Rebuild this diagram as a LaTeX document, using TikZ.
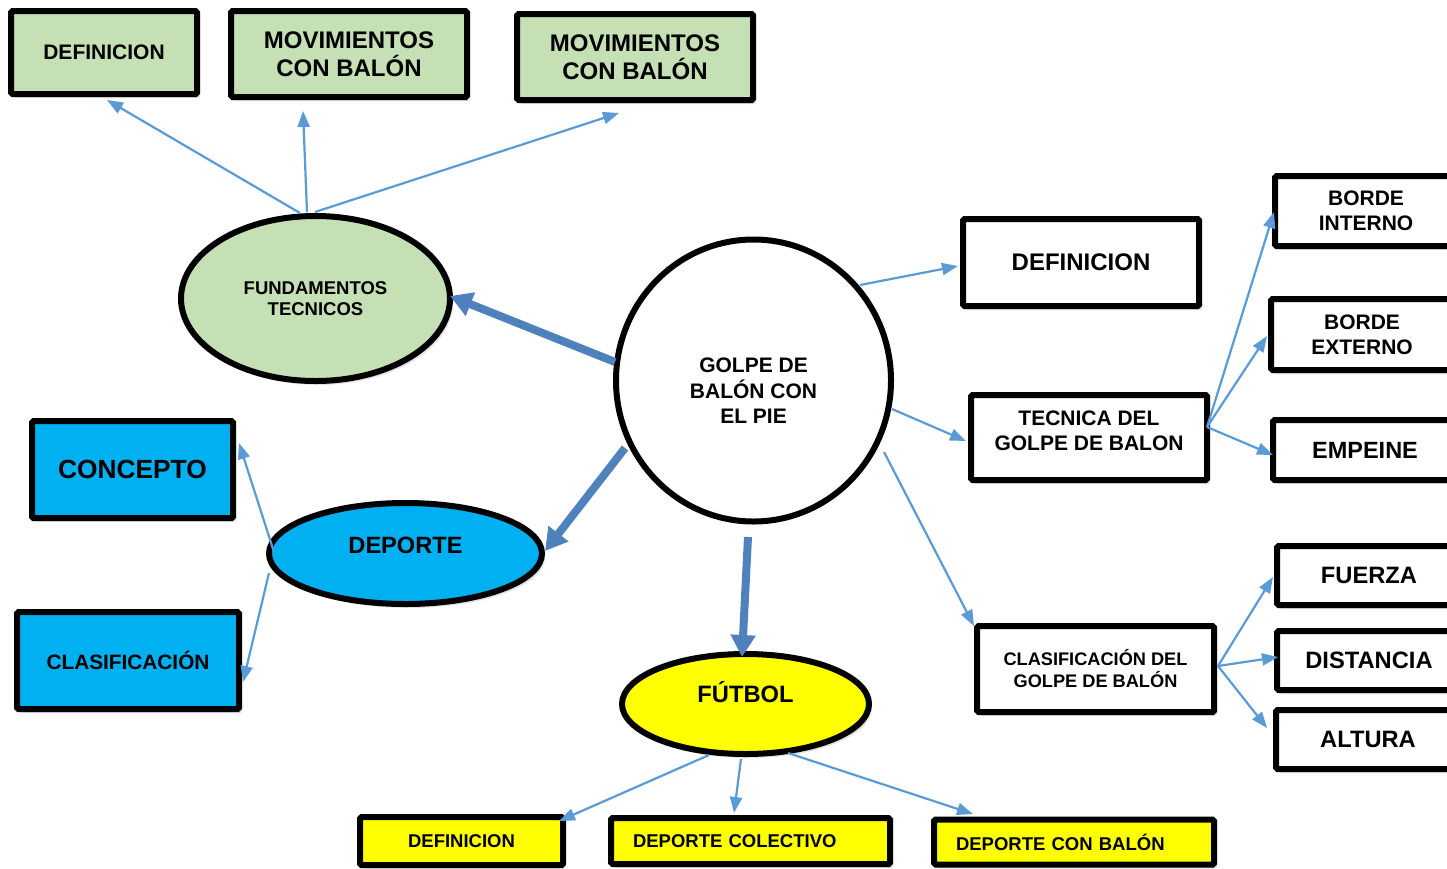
\documentclass[tikz,border=0pt]{standalone}
\usepackage{fontspec}
\setmainfont{Liberation Sans}
\usetikzlibrary{shapes.geometric,arrows.meta,calc,shadows}
\definecolor{leaf}{HTML}{C5E0B4}
\definecolor{sky}{HTML}{00B0F0}
\definecolor{lemon}{HTML}{FFFF00}
\definecolor{linkblue}{HTML}{5B9BD5}
\definecolor{mainblue}{HTML}{4F81BD}
\newcommand{\fs}[2]{\fontsize{#1}{#2}\selectfont\bfseries}
% lines whose last baseline sits #1 above the node centre
\newcommand{\liftlines}[2]{\raisebox{#1}[0pt][0pt]{\begin{tabular}[b]{@{}c@{}}#2\end{tabular}}}

\begin{document}
\begin{tikzpicture}[x=1pt,y=-1pt,
  softshadow/.style={drop shadow={shadow xshift=3pt,shadow yshift=-4pt,opacity=.22}},
  frame/.style={draw=black,line width=6pt,rounded corners=1.5pt,inner sep=0pt,align=center,softshadow},
  oval/.style={ellipse,draw=black,line width=6pt,inner sep=0pt,align=center},
  link/.style={draw=linkblue,line width=2.2pt,-{Triangle[length=16pt,width=12pt]}},
  bold link/.style={draw=mainblue,line width=8pt,-{Triangle[length=22pt,width=24pt]}},
]
\useasboundingbox (0,0) rectangle (1447,868);
\clip (0,0) rectangle (1447,868);

% top row
\node[frame,fill=leaf,minimum width=186pt,minimum height=83pt,font=\fs{21}{25}] (defL) at (104,52.5) {DEFINICION};
\node[frame,fill=leaf,minimum width=236pt,minimum height=86pt,font=\fs{24}{28}] (movA) at (349,54) {MOVIMIENTOS\\CON BALÓN};
\node[frame,fill=leaf,minimum width=236pt,minimum height=86pt,font=\fs{24}{28}] (movB) at (635,57) {MOVIMIENTOS\\CON BALÓN};

% ovals
\node[oval,fill=leaf,softshadow,minimum width=269pt,minimum height=165pt,font=\fs{18.5}{21}] (fund) at (315.5,298.5) {FUNDAMENTOS\\TECNICOS};
\node[oval,fill=white,minimum width=275pt,minimum height=282pt,font=\fs{21}{25}] (golpe) at (753.5,380.5) {\liftlines{-43pt}{GOLPE DE\\BALÓN CON\\EL PIE}};
\node[oval,fill=sky,softshadow,minimum width=273pt,minimum height=101pt,font=\fs{23.6}{28}] (deporte) at (405.5,553.5) {\liftlines{0pt}{DEPORTE}};
\node[oval,fill=lemon,softshadow,minimum width=247pt,minimum height=100pt,font=\fs{23.7}{28}] (futbol) at (745.5,704) {\liftlines{2pt}{FÚTBOL}};

% left boxes
\node[frame,fill=sky,minimum width=201pt,minimum height=97pt,font=\fs{26.3}{30}] (concepto) at (132.5,469.5) {CONCEPTO};
\node[frame,fill=sky,minimum width=222pt,minimum height=97pt,font=\fs{20.8}{25}] (clasif) at (128,660.5) {CLASIFICACIÓN};

% right boxes
\node[frame,fill=white,minimum width=236pt,minimum height=87pt,font=\fs{24}{28}] (defR) at (1081,262.5) {DEFINICION};
\node[frame,fill=white,minimum width=236pt,minimum height=85pt,font=\fs{21}{25}] (tec) at (1089,437.5) {\liftlines{-13pt}{TECNICA DEL\\GOLPE DE BALON}};
\node[frame,fill=white,minimum width=237pt,minimum height=86pt,font=\fs{18.2}{22}] (clasG) at (1095.5,669) {CLASIFICACIÓN DEL\\GOLPE DE BALÓN};

\node[frame,fill=white,minimum width=182pt,minimum height=70pt,font=\fs{21}{25}] (bInt) at (1366,211) {BORDE\\INTERNO};
\node[frame,fill=white,minimum width=182pt,minimum height=71pt,font=\fs{21}{25}] (bExt) at (1362,334.5) {BORDE\\EXTERNO};
\node[frame,fill=white,minimum width=184pt,minimum height=60pt,font=\fs{23.5}{28}] (emp) at (1365,450) {EMPEINE};
\node[frame,fill=white,minimum width=184pt,minimum height=59pt,font=\fs{23.7}{28}] (fuerza) at (1369,575.5) {FUERZA};
\node[frame,fill=white,minimum width=184pt,minimum height=59pt,font=\fs{23.7}{28}] (dist) at (1369,660.5) {DISTANCIA};
\node[frame,fill=white,minimum width=184pt,minimum height=59pt,font=\fs{23.7}{28}] (alt) at (1368,739.5) {ALTURA};

% bottom row
\node[frame,fill=lemon,minimum width=203pt,minimum height=48pt,font=\fs{18.5}{22}] (bDef) at (461.5,841) {DEFINICION};
\node[frame,fill=lemon,text width=235pt,inner xsep=22pt,align=left,minimum height=46pt,font=\fs{18.5}{22}] (bCol) at (750.5,841) {DEPORTE COLECTIVO};
\node[frame,fill=lemon,text width=236pt,inner xsep=22pt,align=left,minimum height=45pt,font=\fs{18.5}{22}] (bBal) at (1074,842) {DEPORTE CON BALÓN};

% thin connectors
\draw[link] ($(fund)+(-15.5,-85.5)$) -- ($(defL)+(3,47.5)$);
\draw[link] ($(fund)+(-8.5,-86.5)$) -- ($(movA)+(-46,57)$);
\draw[link] ($(fund)+(-0.5,-86.5)$) -- ($(movB)+(-16,56)$);

\draw[link] ($(golpe)+(106.5,-95.5)$) -- ($(defR)+(-123,3.5)$);
\draw[link] ($(golpe)+(138.5,28.5)$) -- ($(tec)+(-123,3.5)$);
\draw[link] ($(golpe)+(130.5,71.5)$) -- ($(clasG)+(-121.5,-43)$);

\draw[link] ($(tec)+(118,-10.5)$) -- ($(bInt)+(-92,1)$);
\draw[link] ($(tec)+(118,-10.5)$) -- ($(bExt)+(-95,1.5)$);
\draw[link] ($(tec)+(118,-10.5)$) -- ($(emp)+(-92,5)$);

\draw[link] ($(clasG)+(122.5,-3)$) -- ($(fuerza)+(-96,1.5)$);
\draw[link] ($(clasG)+(122.5,-3)$) -- ($(dist)+(-91,-3.5)$);
\draw[link] ($(clasG)+(122.5,-3)$) -- ($(alt)+(-101,-11.5)$);

\draw[link] ($(deporte)+(-131.5,-1.5)$) -- ($(concepto)+(106.5,-26.5)$);
\draw[link] ($(deporte)+(-136.5,19.5)$) -- ($(clasif)+(115,21.5)$);

\draw[link] ($(futbol)+(-36.5,51)$) -- ($(bDef)+(97.5,-20)$);
\draw[link] ($(futbol)+(-4.5,55)$) -- ($(bCol)+(-16.5,-28)$);
\draw[link] ($(futbol)+(42.5,49)$) -- ($(bBal)+(-101,-28)$);

% heavy connectors from the centre
\draw[bold link] ($(golpe)+(-138.5,-18.5)$) -- ($(fund)+(134.5,-2.5)$);
\draw[bold link] ($(golpe)+(-128.5,67.5)$) -- ($(deporte)+(139.5,-2.5)$);
\draw[bold link] ($(golpe)+(-5.5,156.5)$) -- ($(futbol)+(-3.5,-47)$);
\end{tikzpicture}
\end{document}
